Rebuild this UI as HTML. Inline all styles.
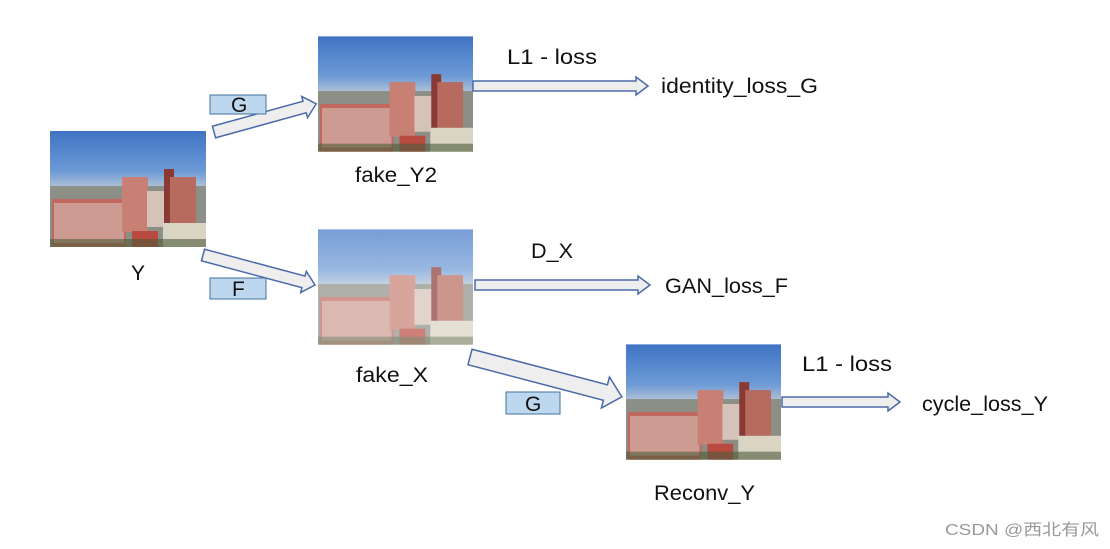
<!DOCTYPE html>
<html><head><meta charset="utf-8"><style>
body{margin:0;background:#fff;}
svg{display:block;font-family:"Liberation Sans","Noto Sans CJK SC",sans-serif;}
</style></head><body>
<svg width="1110" height="549" viewBox="0 0 1110 549" xmlns="http://www.w3.org/2000/svg">
<defs>
<linearGradient id="sky" x1="0" y1="0" x2="0" y2="1">
<stop offset="0" stop-color="#3f74c4"/><stop offset="0.35" stop-color="#6e9bd6"/><stop offset="0.5" stop-color="#b7c6d6"/><stop offset="1" stop-color="#9aa49a"/>
</linearGradient>
<symbol id="photo" viewBox="0 0 156 116">
<rect width="156" height="116" fill="url(#sky)"/>
<rect x="0" y="55" width="156" height="61" fill="#8c8f86"/>
<rect x="2" y="68" width="74" height="48" fill="#c0675e"/>
<rect x="4" y="72" width="70" height="40" fill="#d9c6bd" opacity="0.55"/>
<rect x="72" y="46" width="26" height="55" fill="#c88075"/>
<rect x="97" y="60" width="22" height="36" fill="#d5c2b8"/>
<rect x="114" y="38" width="10" height="55" fill="#8a3a34"/>
<rect x="120" y="46" width="26" height="50" fill="#b76a5e"/>
<rect x="113" y="92" width="43" height="24" fill="#d9d5c2"/>
<rect x="82" y="100" width="26" height="16" fill="#b84a40"/>
<rect x="0" y="108" width="156" height="8" fill="#4d5c3a" opacity="0.6"/>
</symbol>
</defs>

<use href="#photo" x="50" y="131" width="156" height="116"/>
<use href="#photo" x="318" y="36" width="155" height="116"/>
<use href="#photo" x="318" y="229" width="155" height="116" opacity="0.7"/>
<use href="#photo" x="626" y="344" width="155" height="116"/>

<g fill="#eeeeee" stroke="#4a6ba8" stroke-width="1.5" stroke-linejoin="miter">
<g transform="translate(214,132) rotate(-15.4)"><polygon points="0,-6 94,-6 94,-11 106,0 94,11 94,6 0,6"/></g>
<g transform="translate(203,255) rotate(15)"><polygon points="0,-6 104,-6 104,-11 116,0 104,11 104,6 0,6"/></g>
<g transform="translate(470,357) rotate(14.7)"><polygon points="0,-8 140,-8 140,-16 157,0 140,16 140,8 0,8"/></g>
<polygon points="473,81 636,81 636,77 648,86 636,95 636,91 473,91"/>
<polygon points="475,280 638,280 638,276 650,285 638,294 638,290 475,290"/>
<polygon points="782,397 888,397 888,393 900,402 888,411 888,407 782,407"/>
</g>

<g fill="#bdd7ee" stroke="#41719c" stroke-width="1">
<rect x="210" y="95" width="56" height="19"/>
<rect x="210" y="278" width="56" height="21"/>
<rect x="506" y="392" width="54" height="22"/>
</g>
<g font-size="21" fill="#111" lengthAdjust="spacingAndGlyphs">
<text x="231" y="112">G</text>
<text x="232" y="296">F</text>
<text x="525" y="411">G</text>
<text x="131" y="280">Y</text>
<text x="355" y="182" textLength="82" lengthAdjust="spacingAndGlyphs">fake_Y2</text>
<text x="356" y="382" textLength="72" lengthAdjust="spacingAndGlyphs">fake_X</text>
<text x="654" y="500" textLength="101" lengthAdjust="spacingAndGlyphs">Reconv_Y</text>
<text x="507" y="64" textLength="90" lengthAdjust="spacingAndGlyphs">L1 - loss</text>
<text x="531" y="258" textLength="42" lengthAdjust="spacingAndGlyphs">D_X</text>
<text x="802" y="371" textLength="90" lengthAdjust="spacingAndGlyphs">L1 - loss</text>
<text x="661" y="93" textLength="157" lengthAdjust="spacingAndGlyphs">identity_loss_G</text>
<text x="665" y="293" textLength="123" lengthAdjust="spacingAndGlyphs">GAN_loss_F</text>
<text x="922" y="411" textLength="126" lengthAdjust="spacingAndGlyphs">cycle_loss_Y</text>
</g>
<text x="945" y="535" font-size="16" fill="#999" textLength="154" lengthAdjust="spacingAndGlyphs">CSDN @西北有风</text>
</svg>
</body></html>
